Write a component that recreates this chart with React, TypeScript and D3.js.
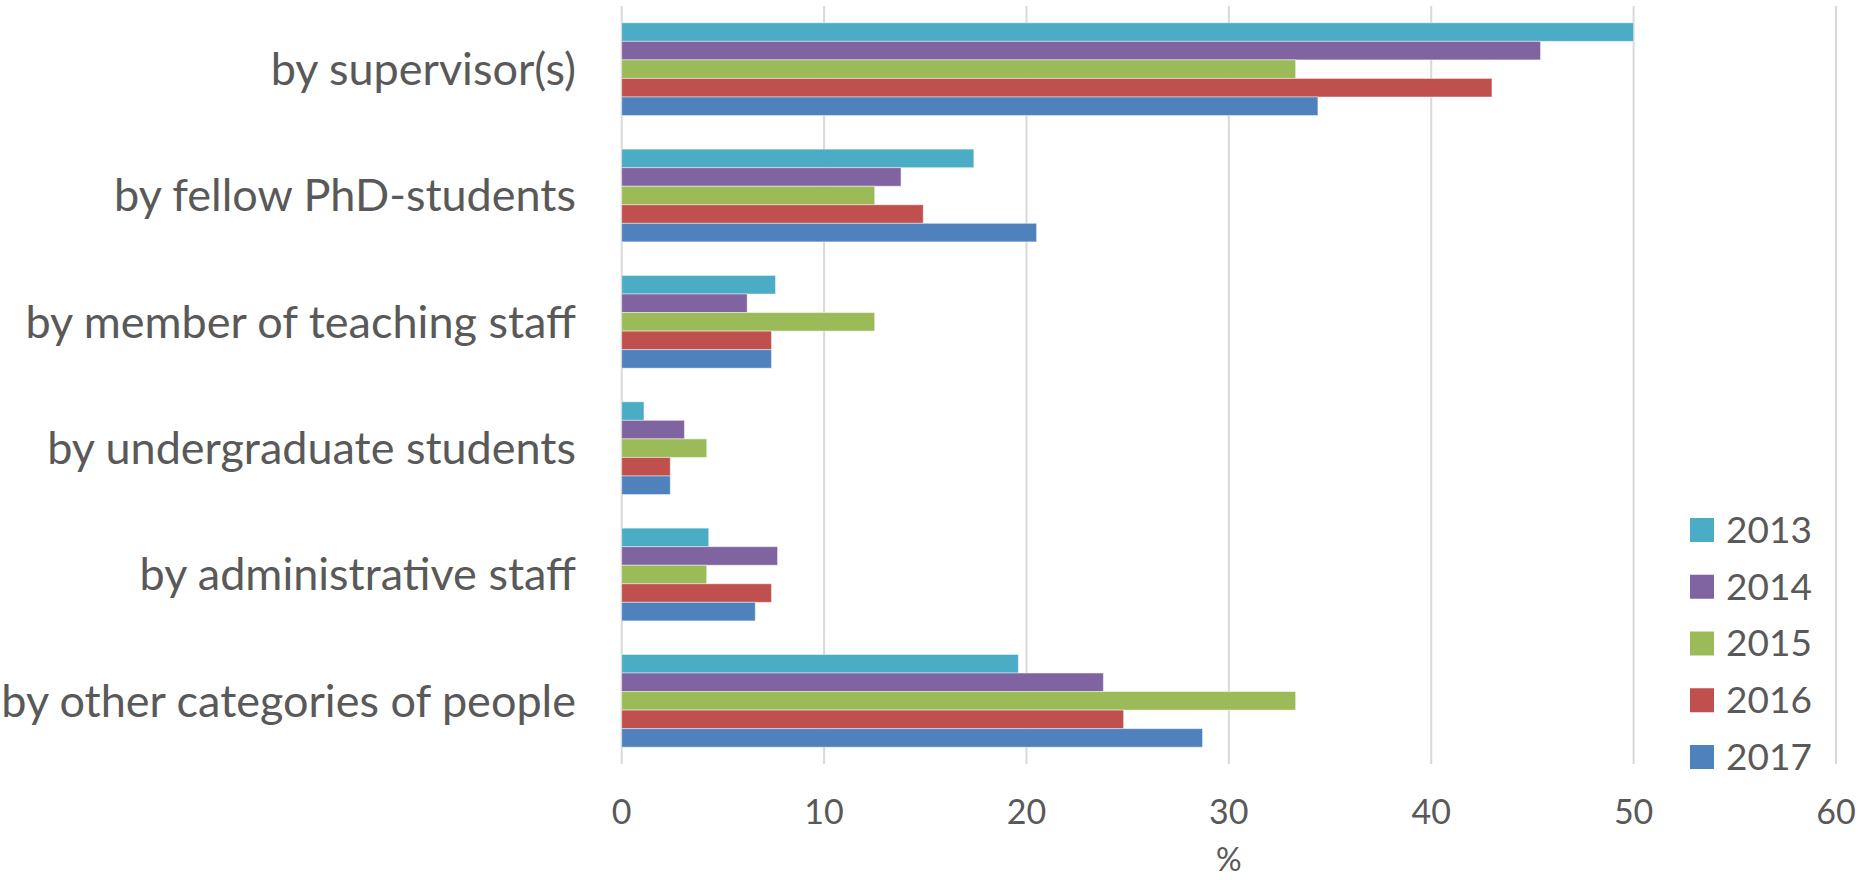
import React from "react";
import * as d3 from "d3";

const categories = [
  "by supervisor(s)",
  "by fellow PhD-students",
  "by member of teaching staff",
  "by undergraduate students",
  "by administrative staff",
  "by other categories of people",
];
const years = ["2013", "2014", "2015", "2016", "2017"];
const colors = ["#4BACC6", "#8064A2", "#9BBB59", "#C0504D", "#4F81BD"];
const v2013 = [50.0, 17.4, 7.6, 1.1, 4.3, 19.6];
const v2014 = [45.4, 13.8, 6.2, 3.1, 7.7, 23.8];
const v2015 = [33.3, 12.5, 12.5, 4.2, 4.2, 33.3];
const v2016 = [43.0, 14.9, 7.4, 2.4, 7.4, 24.8];
const v2017 = [34.4, 20.5, 7.4, 2.4, 6.6, 28.7];
const seriesValues = [v2013, v2014, v2015, v2016, v2017];
const xTicks = [0, 10, 20, 30, 40, 50, 60];
const axisTitle = "%";

const W = 1872;
const H = 880;
const FONT = "Lato, 'Open Sans', sans-serif";
const TEXT = "#595959";

export default function App() {
  const x = d3.scaleLinear().domain([0, 60]).range([621.7, 1836]);
  const y = d3
    .scaleBand<string>()
    .domain(categories)
    .range([6, 764])
    .paddingInner(0.266)
    .paddingOuter(0.133);
  const yi = d3.scaleBand<string>().domain(years).range([0, y.bandwidth()]);
  const legendY = d3.scalePoint<string>().domain(years).range([530, 757]);

  return (
    <svg
      width={W}
      height={H}
      style={{ position: "absolute", left: 0, top: 0, background: "#fff" }}
      fontFamily={FONT}
    >
      <rect x={0} y={0} width={W} height={H} fill="#fff" />
      {xTicks.map((t) => (
        <line
          key={"g" + t}
          x1={x(t)}
          x2={x(t)}
          y1={6}
          y2={764}
          stroke="#D9D9D9"
          strokeWidth={2}
        />
      ))}
      {categories.map((c, ci) => (
        <g key={c} transform={`translate(0,${y(c)})`}>
          {years.map((yr, si) => (
            <rect
              key={yr}
              x={x(0)}
              y={yi(yr)}
              width={x(seriesValues[si][ci]) - x(0)}
              height={yi.bandwidth()}
              fill={colors[si]}
              stroke="#ffffff"
              strokeOpacity={0.45}
              strokeWidth={1}
            />
          ))}
        </g>
      ))}
      {categories.map((c) => (
        <text
          key={"l" + c}
          x={576}
          y={(y(c) as number) + y.bandwidth() / 2}
          dy="0.35em"
          textAnchor="end"
          fontSize={45}
          fill={TEXT}
        >
          {c}
        </text>
      ))}
      {xTicks.map((t) => (
        <text
          key={"t" + t}
          x={x(t)}
          y={812}
          dy="0.35em"
          textAnchor="middle"
          fontSize={34}
          fill={TEXT}
        >
          {t}
        </text>
      ))}
      <text
        x={(x(0) + x(60)) / 2}
        y={871}
        textAnchor="middle"
        fontSize={32}
        fill={TEXT}
      >
        {axisTitle}
      </text>
      {years.map((yr, i) => (
        <g key={"lg" + yr}>
          <rect
            x={1690}
            y={(legendY(yr) as number) - 12}
            width={24}
            height={24}
            fill={colors[i]}
          />
          <text
            x={1726}
            y={legendY(yr) as number}
            dy="0.35em"
            fontSize={37}
            fill={TEXT}
          >
            {yr}
          </text>
        </g>
      ))}
    </svg>
  );
}
